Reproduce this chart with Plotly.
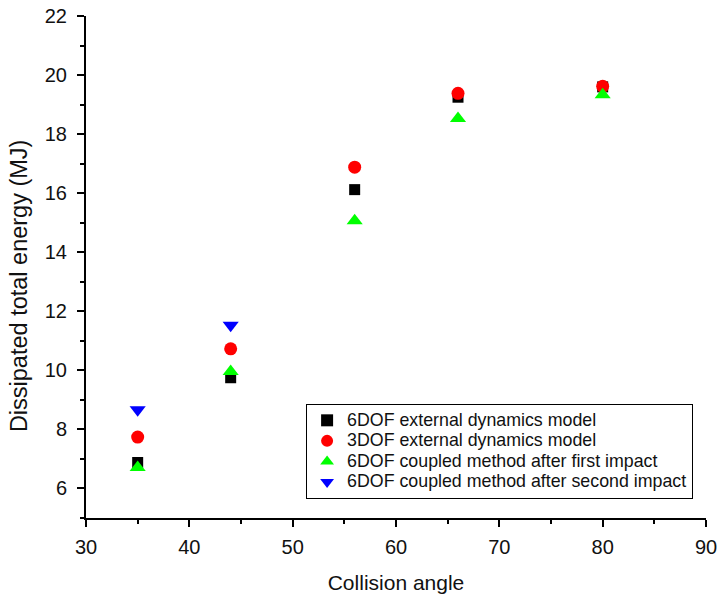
import plotly.graph_objects as go

angles = [35, 44, 56, 66, 80]
six_dof_ext = [6.88, 9.75, 16.12, 19.25, 19.6]
three_dof_ext = [7.74, 10.73, 16.88, 19.38, 19.62]
coupled_first = [6.71, 9.96, 15.07, 18.53, 19.33]
angles_second = [35, 44]
coupled_second = [8.67, 11.53]

names = ["6DOF external dynamics model", "3DOF external dynamics model",
         "6DOF coupled method after first impact", "6DOF coupled method after second impact"]
x_title = "Collision angle"
y_title = "Dissipated total energy (MJ)"

FONT = "Liberation Sans, Arial, sans-serif"


def lg(name):
    return '<span style="font-size:17.8px">' + name + '</span>'


fig = go.Figure()
fig.add_trace(go.Scatter(x=angles, y=six_dof_ext, mode="markers", name=lg(names[0]),
                         marker=dict(symbol="square", size=11, color="black")))
fig.add_trace(go.Scatter(x=angles, y=three_dof_ext, mode="markers", name=lg(names[1]),
                         marker=dict(symbol="circle", size=13, color="#ff0000")))
fig.add_trace(go.Scatter(x=angles, y=coupled_first, mode="markers", name=lg(names[2]),
                         marker=dict(symbol="triangle-up", size=14, color="#00ff00")))
fig.add_trace(go.Scatter(x=angles_second, y=coupled_second, mode="markers", name=lg(names[3]),
                         marker=dict(symbol="triangle-down", size=14, color="#0000ff")))

axis_common = dict(showgrid=False, zeroline=False, showline=True, linecolor="black", linewidth=2,
                   ticks="outside", ticklen=7, tickwidth=2, tickcolor="black",
                   tickfont=dict(family=FONT, size=20, color="#111"),
                   mirror=False, automargin=False)

fig.update_xaxes(range=[30, 90], dtick=10, tick0=30, ticklabelstandoff=3,
                 minor=dict(dtick=5, ticks="outside", ticklen=4, tickwidth=2, tickcolor="black"),
                 title=dict(text=x_title, font=dict(family=FONT, size=21, color="#111"), standoff=18),
                 **axis_common)
fig.update_yaxes(range=[5, 22], dtick=2, tick0=0, ticklabelstandoff=6,
                 minor=dict(dtick=1, ticks="outside", ticklen=4, tickwidth=2, tickcolor="black"),
                 **axis_common)

fig.add_annotation(text=y_title, textangle=-90, xref="paper", yref="paper",
                   x=-0.108, y=0.462, xanchor="center", yanchor="middle", showarrow=False,
                   font=dict(family=FONT, size=23.5, color="#111"))

fig.update_layout(
    width=719, height=595,
    margin=dict(l=86, r=13, t=16, b=77),
    plot_bgcolor="white", paper_bgcolor="white",
    showlegend=True,
    legend=dict(x=0.355, y=0.227, xanchor="left", yanchor="top",
                bordercolor="black", borderwidth=1, bgcolor="white",
                font=dict(family=FONT, size=13.5, color="#111"),
                tracegroupgap=0, itemsizing="constant"),
)

fig.write_html("out.html")
